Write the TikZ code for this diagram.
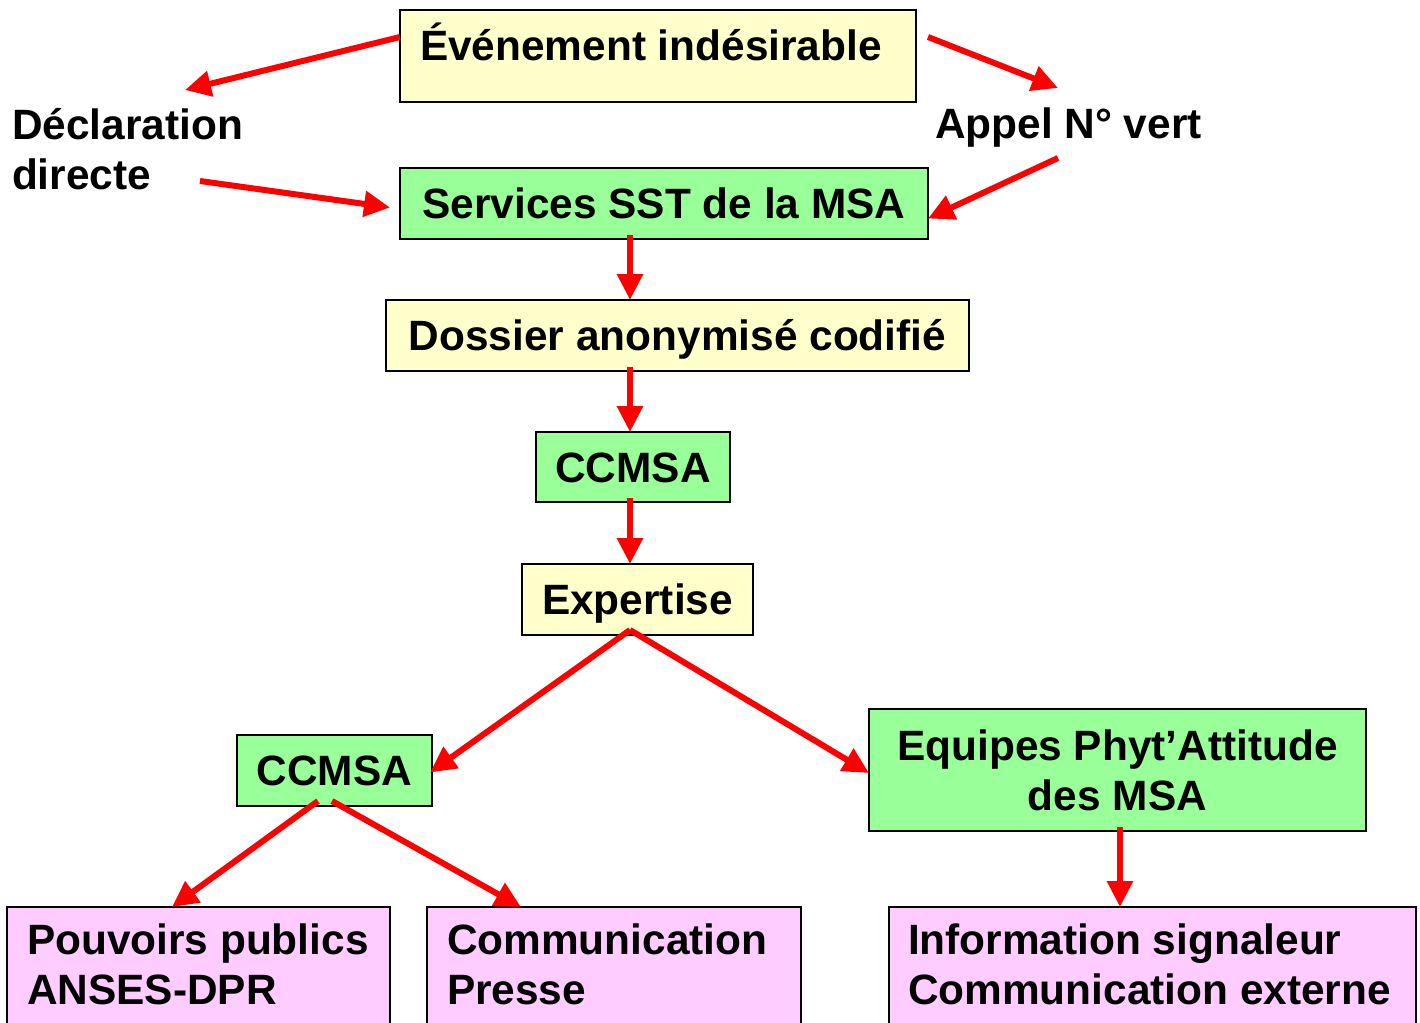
\documentclass[tikz,border=0pt]{standalone}
\usepackage{fontspec}
\setmainfont{Liberation Sans}
\usetikzlibrary{arrows.meta,calc}
\definecolor{yfill}{HTML}{FFFFCC}
\definecolor{gfill}{HTML}{99FF99}
\definecolor{pfill}{HTML}{FFCCFF}
\definecolor{ared}{HTML}{FF0000}
\begin{document}
\begin{tikzpicture}[x=0.5pt,y=-0.5pt,
  box/.style={draw=black, line width=0.75pt, inner sep=0pt, outer sep=0pt, anchor=north west,
     font=\bfseries\fontsize{21.2}{25}\selectfont, text height=15.2pt, text depth=0pt},
  ybox/.style={box, fill=yfill},
  gbox/.style={box, fill=gfill},
  pbox/.style={box, fill=pfill},
  lbl/.style={inner sep=0pt, outer sep=0pt, align=left, font=\bfseries\fontsize{21.2}{25}\selectfont},
  arr/.style={draw=ared, line width=3pt, -{Triangle[length=13pt,width=12.5pt]}}
]
\clip (0,0) rectangle (1420,1023);
\fill[white] (0,0) rectangle (1420,1023);

% boxes
\node[ybox, minimum width=258pt, minimum height=46pt] (ev) at (400,10) {};
\node[lbl, anchor=base west] (evt) at (420,60) {Événement indésirable};
\node[gbox, minimum width=264pt, minimum height=35.5pt] (sst) at (400,168) {Services SST de la MSA};
\node[ybox, minimum width=291.5pt, minimum height=35.5pt] (dos) at (386,300) {Dossier anonymisé codifié};
\node[gbox, minimum width=97pt, minimum height=35pt] (cc1) at (536,432) {CCMSA};
\node[ybox, minimum width=115.5pt, minimum height=35.5pt] (exp) at (522,564) {Expertise};
\node[gbox, minimum width=97.5pt, minimum height=35.5pt] (cc2) at (237,735) {CCMSA};
\node[gbox, minimum width=248.5pt, minimum height=61pt, align=center, text height=, text depth=] (eq) at (869,709) {Equipes Phyt’Attitude\\des MSA};
\node[pbox, minimum width=191.5pt, minimum height=66.5pt] (pp) at (7,907) {};
\node[pbox, minimum width=187pt, minimum height=66.5pt] (cp) at (427,907) {};
\node[pbox, minimum width=263.5pt, minimum height=66.5pt] (inf) at (889,907) {};
\node[lbl, anchor=north west] (ppt) at (27,924) {Pouvoirs publics\\ANSES-DPR};
\node[lbl, anchor=north west] (cpt) at (447,924) {Communication\\Presse};
\node[lbl, anchor=north west] (inft) at (908,924) {Information signaleur\\Communication externe};

% free labels
\node[lbl, anchor=north west] (decl) at (12,108) {Déclaration\\directe};
\node[lbl, anchor=base west] (appel) at (935,138) {Appel N° vert};

% helper coordinates
\coordinate (axis) at (630,0);
\coordinate (axis2) at (1120,0);
\coordinate (dtip) at (185,90);
\coordinate (atip) at (1058,88);
\coordinate (dstart) at (200,181);
\coordinate (astart) at (1058,158);

% arrows
\draw[arr] ($(ev.north west)+(0,27)$) -- (dtip);
\draw[arr] ($(ev.north east)+(12,27)$) -- (atip);
\draw[arr] (dstart) -- ($(sst.west)+(-10,4)$);
\draw[arr] (astart) -- ($(sst.east)+(0,15)$);
\draw[arr] ($(sst.south -| axis)+(0,-4)$) -- (dos.north -| axis);
\draw[arr] ($(dos.south -| axis)+(0,-4)$) -- (cc1.north -| axis);
\draw[arr] ($(cc1.south -| axis)+(0,-4)$) -- (exp.north -| axis);
\draw[arr] ($(exp.south -| axis)+(0,-5)$) -- ($(cc2.east)+(-2,2)$);
\draw[arr] ($(exp.south -| axis)+(0,-5)$) -- ($(eq.west)+(0,3)$);
\draw[arr] ($(cc2.south)+(-16.5,-5)$) -- ($(pp.north west)+(165,0)$);
\draw[arr] ($(cc2.south)+(-2.5,-5)$) -- ($(cp.north west)+(94,0)$);
\draw[arr] ($(eq.south -| axis2)+(0,-4)$) -- (inf.north -| axis2);
\end{tikzpicture}
\end{document}
